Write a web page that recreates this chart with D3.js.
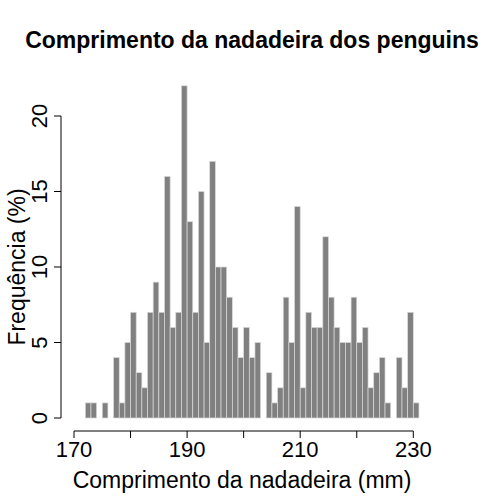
<!DOCTYPE html>
<html><head><meta charset="utf-8">
<script src="https://cdn.jsdelivr.net/npm/d3@7"></script>
<style>body{margin:0;background:#fff}</style>
</head><body>
<svg id="chart" width="504" height="504"></svg>
<script>
// bins of 1 mm, starting at 172
const binStart = 172;
const counts = [1,1,0,1,0,4,1,5,7,3,2,7,9,7,16,6,7,22,13,7,15,5,17,10,10,8,6,4,6,4,5,
  0,3,1,2,8,5,14,2,7,6,6,12,8,6,5,5,8,5,6,2,3,4,1,0,4,2,7,1];
const xTicks = [170,190,210,230];
const xMinor = [180,200,220];
const yTicks = [0,5,10,15,20];

const svg = d3.select("#chart");
const x = d3.scaleLinear().domain([170,230]).range([74,413.3]);
const y = d3.scaleLinear().domain([0,20]).range([418,116]);
const font = "Liberation Sans, Arial, sans-serif";

svg.selectAll("rect.bar").data(counts).enter().append("rect")
  .attr("class","bar")
  .attr("x",(d,i)=>x(binStart+i))
  .attr("width",x(1)-x(0))
  .attr("y",d=>y(d))
  .attr("height",d=>y(0)-y(d))
  .attr("fill",d=>d>0?"#808080":"none")
  .attr("stroke",d=>d>0?"#d9d9d9":"none")
  .attr("stroke-width",0.7);

// x axis
const xa = svg.append("g").attr("stroke","#000").attr("stroke-width",1);
xa.append("line").attr("x1",x(170)).attr("x2",x(230)).attr("y1",431).attr("y2",431);
xa.selectAll("line.t").data(xTicks.concat(xMinor)).enter().append("line")
  .attr("x1",d=>x(d)).attr("x2",d=>x(d)).attr("y1",431).attr("y2",438);
svg.selectAll("text.xt").data(xTicks).enter().append("text")
  .attr("x",d=>x(d)).attr("y",457).attr("text-anchor","middle")
  .attr("font-family",font).attr("font-size",22).text(d=>d);

// y axis
const ya = svg.append("g").attr("stroke","#000").attr("stroke-width",1);
ya.append("line").attr("x1",61).attr("x2",61).attr("y1",y(0)).attr("y2",y(20));
ya.selectAll("line.t").data(yTicks).enter().append("line")
  .attr("x1",54).attr("x2",61).attr("y1",d=>y(d)).attr("y2",d=>y(d));
svg.selectAll("text.yt").data(yTicks).enter().append("text")
  .attr("transform",d=>`translate(47,${y(d)}) rotate(-90)`)
  .attr("text-anchor","middle").attr("font-family",font).attr("font-size",22).text(d=>d);

svg.append("text").attr("x",252).attr("y",48).attr("text-anchor","middle")
  .attr("font-family",font).attr("font-size",23).attr("font-weight","bold")
  .text("Comprimento da nadadeira dos penguins");
svg.append("text").attr("x",242).attr("y",488).attr("text-anchor","middle")
  .attr("font-family",font).attr("font-size",23).text("Comprimento da nadadeira (mm)");
svg.append("text").attr("transform","translate(25,267) rotate(-90)").attr("text-anchor","middle")
  .attr("font-family",font).attr("font-size",23).text("Frequência (%)");
</script>
</body></html>
